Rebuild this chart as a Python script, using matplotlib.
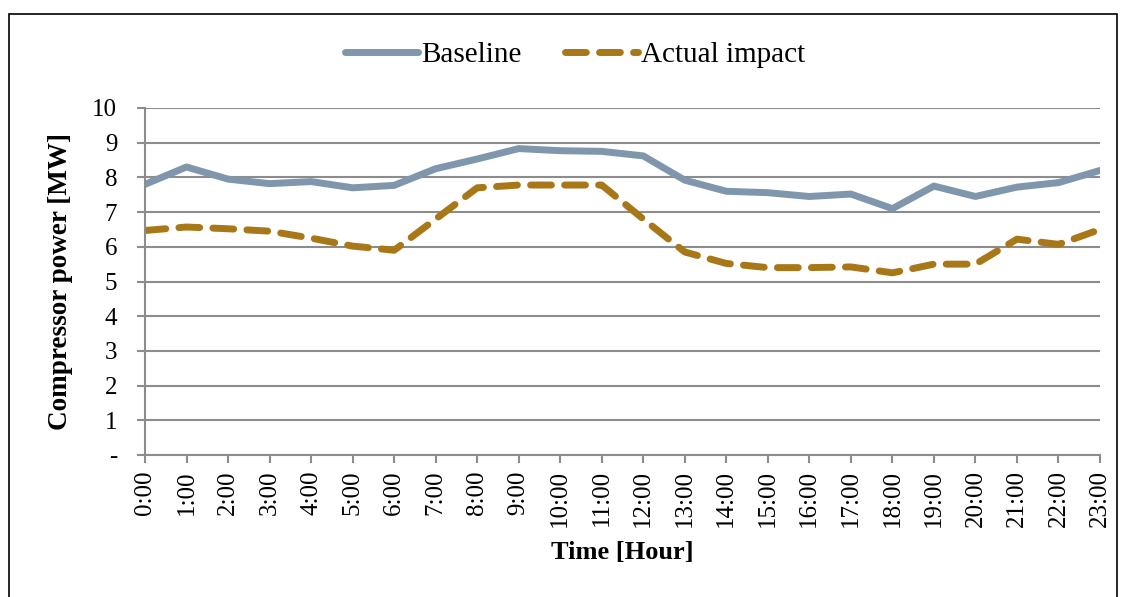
import matplotlib.pyplot as plt
from matplotlib.patches import Rectangle

# data
hours = [f"{h}:00" for h in range(24)]
baseline = [7.8, 8.3, 7.95, 7.82, 7.88, 7.7, 7.77, 8.25, 8.53, 8.83, 8.77, 8.75,
            8.62, 7.92, 7.6, 7.56, 7.45, 7.52, 7.1, 7.75, 7.45, 7.72, 7.85, 8.2]
actual = [6.47, 6.57, 6.52, 6.45, 6.25, 6.02, 5.9, 6.8, 7.7, 7.78, 7.78, 7.78,
          6.8, 5.85, 5.52, 5.4, 5.4, 5.42, 5.25, 5.5, 5.5, 6.22, 6.07, 6.5]
yticks = list(range(11))
ytick_labels = ["-"] + [str(v) for v in range(1, 11)]

plt.rcParams['font.family'] = ['Liberation Serif', 'DejaVu Serif']

fig = plt.figure(figsize=(11.21, 5.97), dpi=100)
ax = fig.add_axes([145 / 1121, 1 - 455 / 597, 955 / 1121, 347 / 597])

# outer chart border
fig.patches.append(Rectangle((9 / 1121, -0.05), 1108 / 1121, 1 - 14 / 597 + 0.05,
                             transform=fig.transFigure, fill=False,
                             edgecolor='black', linewidth=1.2))

x = list(range(len(hours)))
ax.plot(x, baseline, color='#7F96AD', lw=5, solid_capstyle='round',
        solid_joinstyle='round', label='Baseline')
ax.plot(x, actual, color='#A87818', lw=5, dashes=(3.0, 1.9),
        dash_capstyle='round', dash_joinstyle='round', label='Actual impact')

ax.set_xlim(0, 23)
ax.set_ylim(0, 10)
ax.set_yticks(yticks)
ax.set_yticklabels(ytick_labels, fontsize=18)
ax.set_xticks(x)
ax.set_xticklabels(hours, rotation=90, fontsize=18)
ax.grid(axis='y', color='#8C8C8C', lw=1.5)
ax.set_axisbelow(True)

for s in ['top', 'right']:
    ax.spines[s].set_visible(False)
for s in ['left', 'bottom']:
    ax.spines[s].set_color('#8C8C8C')
    ax.spines[s].set_linewidth(1.5)
ax.tick_params(colors='#8C8C8C', length=6, width=1.5, labelcolor='black')
ax.tick_params(axis='y', pad=14)
ax.tick_params(axis='x', pad=5)

ax.set_ylabel('Compressor power [MW]', fontsize=19.5, fontweight='bold', labelpad=14)
ax.set_xlabel('Time [Hour]', fontsize=19, fontweight='bold', labelpad=10)

fig.legend(loc='center', bbox_to_anchor=(575 / 1121, 1 - 55 / 597), ncol=2,
           frameon=False, fontsize=21, handlelength=2.5, columnspacing=1.5,
           handletextpad=0.1)

fig.savefig('out.png', dpi=100)
